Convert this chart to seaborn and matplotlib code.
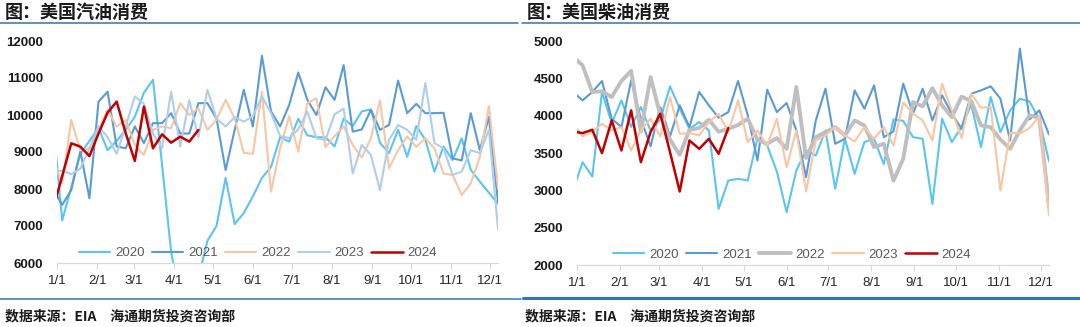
import numpy as np
import pandas as pd
import matplotlib
matplotlib.use("Agg")
import matplotlib.pyplot as plt
import seaborn as sns
from matplotlib.lines import Line2D
from matplotlib import font_manager as fm

# ---- data: weekly US product supplied (thousand b/d) ----
years = ["2020", "2021", "2022", "2023", "2024"]
month_labels = ["1/1", "2/1", "3/1", "4/1", "5/1", "6/1",
                "7/1", "8/1", "9/1", "10/1", "11/1", "12/1"]

gasoline_2020 = [9800, 7150, 8050, 8950, 9300, 9650, 9050, 9300, 9600, 9950,
                 10600, 10950, 8650, 6300, 5000, 5100, 5600, 6600, 7000, 8300,
                 7050, 7350, 7800, 8300, 8600, 9400, 9280, 9900, 9450, 9400,
                 9400, 9150, 9900, 9700, 10100, 10150, 9250, 8970, 9600, 8870,
                 9700, 9330, 8470, 9150, 8780, 9370, 8520, 8200, 7900, 7600]
gasoline_2021 = [8000, 7570, 7970, 9020, 7750, 10360, 10630, 9150, 9100, 9690,
                 9240, 9780, 9780, 10050, 9500, 9500, 10320, 10320, 9900, 8510,
                 9600, 10680, 9690, 11600, 10100, 9690, 10270, 11150, 10410, 10000,
                 10750, 10410, 11350, 9550, 9610, 10140, 9600, 9730, 10930, 10050,
                 10300, 10050, 10050, 10060, 8830, 8770, 10050, 9050, 9950, 7650]
gasoline_2022 = [8790, 8150, 9865, 9050, 9100, 9600, 10140, 9690, 9870, 9190,
                 8920, 9600, 9690, 9640, 10320, 10000, 10180, 9600, 9870, 10410,
                 9900, 8980, 8950, 10630, 7930, 9100, 9970, 9010, 10320, 10450,
                 9130, 9430, 9690, 9190, 8850, 9370, 10390, 8560, 9050, 9420,
                 9140, 9370, 9100, 8420, 8380, 7840, 8150, 8870, 10240, 8020]
gasoline_2023 = [8450, 8500, 8400, 8550, 9100, 9700, 9400, 8950, 9700, 10500,
                 10300, 9500, 9100, 10630, 9150, 10400, 9400, 10680, 9900, 9690,
                 9940, 9820, 9970, 10500, 10050, 9430, 9380, 9610, 10090, 9370,
                 9330, 10020, 10170, 8420, 9190, 8920, 7970, 9330, 9730, 9600,
                 9330, 10860, 9240, 9100, 8380, 8470, 9050, 8970, 9600, 6920]
gasoline_2024 = [7460, 8350, 9235, 9145, 8890, 9500, 10064, 10361, 9505, 8757,
                 10226, 9100, 9478, 9252, 9415, 9280, 9595]

diesel_2020 = [2990, 3377, 3185, 4317, 3900, 4205, 3850, 4115, 3800, 3950,
               4393, 4093, 3825, 3914, 3802, 2751, 3131, 3154, 3131, 3700,
               3600, 3250, 2707, 3266, 3534, 3467, 3802, 3020, 3690, 3221,
               3646, 3690, 3350, 3950, 3930, 3713, 3690, 2818, 3958, 3646,
               3847, 4150, 3579, 4250, 3780, 4071, 4227, 4190, 3947, 3390]
diesel_2021 = [4320, 4205, 4317, 4464, 3958, 3847, 4473, 3958, 3590, 4115,
               3722, 4138, 3847, 4317, 4138, 3972, 4048, 4464, 4004, 3400,
               4348, 4048, 4169, 3802, 3176, 3936, 4361, 3623, 3690, 4339,
               4093, 4406, 3713, 3790, 4428, 4026, 4361, 3936, 4272, 4026,
               3825, 4294, 4339, 4393, 4227, 3668, 4898, 3950, 4071, 3749]
diesel_2022 = [4790, 4674, 4317, 4326, 4249, 4464, 4600, 3790, 4518, 4004,
               3680, 3475, 3810, 3836, 3945, 3785, 3825, 3875, 3958, 3680,
               3623, 3700, 3556, 4384, 3433, 3713, 3780, 3847, 3735, 3936,
               3869, 3579, 3623, 3131, 3422, 4182, 4125, 4368, 4138, 3980,
               4255, 4195, 3869, 3847, 3680, 3556, 3802, 4004, 3970, 2796]
diesel_2023 = [3900, 3722, 3780, 3892, 3802, 3847, 3534, 3802, 3958, 3722,
               4249, 3758, 3766, 3735, 3914, 4026, 3780, 4205, 3646, 3802,
               3601, 3958, 3310, 3802, 2985, 3668, 3735, 3847, 3735, 3655,
               3847, 3690, 3847, 3601, 4175, 4030, 3936, 3668, 4428, 4071,
               3700, 4294, 4106, 4115, 2997, 3773, 3762, 3835, 3995, 2662]
diesel_2024 = [3790, 3766, 3811, 3498, 3936, 3534, 4071, 3377, 3780, 4026,
               3512, 2984, 3668, 3556, 3690, 3489, 3834]

gasoline = dict(zip(years, [gasoline_2020, gasoline_2021, gasoline_2022,
                            gasoline_2023, gasoline_2024]))
diesel = dict(zip(years, [diesel_2020, diesel_2021, diesel_2022,
                          diesel_2023, diesel_2024]))

# ---- styling ----
sns.set_style("white")
avail = {f.name for f in fm.fontManager.ttflist}
base_font = "Liberation Sans" if "Liberation Sans" in avail else "DejaVu Sans"
narrow_font = "Liberation Sans Narrow" if "Liberation Sans Narrow" in avail else base_font
plt.rcParams["font.family"] = [base_font, "Noto Sans CJK SC", "DejaVu Sans"]
CJK = ["Noto Sans CJK SC", "DejaVu Sans"]

gas_colors = {"2020": "#5BC5F2", "2021": "#5B9BD5", "2022": "#F7C6A5",
              "2023": "#B0CDEA", "2024": "#C00000"}
gas_widths = {"2020": 1.5, "2021": 1.5, "2022": 1.5, "2023": 1.5, "2024": 1.8}
dsl_colors = {"2020": "#5BC5F2", "2021": "#5B9BD5", "2022": "#BFBFBF",
              "2023": "#F7C6A5", "2024": "#C00000"}
dsl_widths = {"2020": 1.5, "2021": 1.5, "2022": 2.8, "2023": 1.5, "2024": 1.8}

W, H = 1080, 327
fig = plt.figure(figsize=(W / 100, H / 100), dpi=100)


def px_box(left, top, right, bottom):
    return [left / W, 1 - bottom / H, (right - left) / W, (bottom - top) / H]


# weekly observation dates as day-of-year, month starts for the ticks
def week_days(n):
    return np.arange(n) * 7 - 3


month_days = (pd.date_range("2023-01-01", periods=12, freq="MS").dayofyear - 1).to_numpy()


def draw(ax, series, colors, widths, ylim, yticks):
    for z, yr in enumerate(years):
        vals = series[yr]
        df = pd.DataFrame({"day": week_days(len(vals)), "value": vals})
        sns.lineplot(data=df, x="day", y="value", color=colors[yr],
                     linewidth=widths[yr], label=yr, ax=ax,
                     estimator=None, sort=False, zorder=2 + z)
    ax.set_xlim(0, 340)
    ax.set_ylim(*ylim)
    ax.set_yticks(yticks)
    ax.set_yticklabels([str(v) for v in yticks])
    ax.set_xticks(month_days)
    ax.set_xticklabels(month_labels)
    ax.set_xlabel("")
    ax.set_ylabel("")
    for s in ("left", "top", "right"):
        ax.spines[s].set_visible(False)
    ax.spines["bottom"].set_color("#D9D9D9")
    ax.spines["bottom"].set_linewidth(0.9)
    ax.tick_params(axis="x", bottom=True, length=4, width=0.8, color="#D9D9D9",
                   pad=5, labelsize=9.5, labelcolor="#262626")
    ax.tick_params(axis="y", left=False, length=0, pad=10, labelsize=9.5,
                   labelcolor="#1A1A1A")
    for lab in ax.get_xticklabels():
        lab.set_fontfamily(narrow_font)
    for lab in ax.get_yticklabels():
        lab.set_fontweight("bold")
    handles, labels = ax.get_legend_handles_labels()
    ax.legend(handles, labels, ncol=5, loc="center",
              bbox_to_anchor=(0.455, 0.045), frameon=False, fontsize=9.5,
              handlelength=2.4, handletextpad=0.35, columnspacing=0.55,
              labelcolor="#595959")


ax1 = fig.add_axes(px_box(57, 41, 498, 263))
draw(ax1, gasoline, gas_colors, gas_widths, (6000, 12000),
     list(range(6000, 12001, 1000)))

ax2 = fig.add_axes(px_box(577, 41, 1049, 265))
draw(ax2, diesel, dsl_colors, dsl_widths, (2000, 5000),
     list(range(2000, 5001, 500)))

# ---- titles, rules and source notes ----
rule = "#2E75B6"
fig.text(5 / W, 1 - 12 / H, "图：美国汽油消费", fontsize=13, fontweight="bold",
         va="center", ha="left", family=CJK, color="#1A1A1A")
fig.text(527 / W, 1 - 12 / H, "图：美国柴油消费", fontsize=13, fontweight="bold",
         va="center", ha="left", family=CJK, color="#1A1A1A")
fig.add_artist(Line2D([0, 518 / W], [1 - 22.5 / H] * 2, color=rule, lw=1.1,
                      transform=fig.transFigure))
fig.add_artist(Line2D([522 / W, 1], [1 - 22.5 / H] * 2, color=rule, lw=1.1,
                      transform=fig.transFigure))
fig.add_artist(Line2D([0, 521 / W], [1 - 298.5 / H] * 2, color=rule, lw=1.1,
                      transform=fig.transFigure))
fig.add_artist(Line2D([523 / W, 1], [1 - 298 / H] * 2, color=rule, lw=2.2,
                      transform=fig.transFigure))
src = "数据来源：EIA\u3000海通期货投资咨询部"
fig.text(5 / W, 1 - 316 / H, src, fontsize=10, fontweight="bold",
         va="center", ha="left", family=CJK, color="#1A1A1A")
fig.text(525 / W, 1 - 316 / H, src, fontsize=10, fontweight="bold",
         va="center", ha="left", family=CJK, color="#1A1A1A")

fig.savefig("out.png", dpi=100)
